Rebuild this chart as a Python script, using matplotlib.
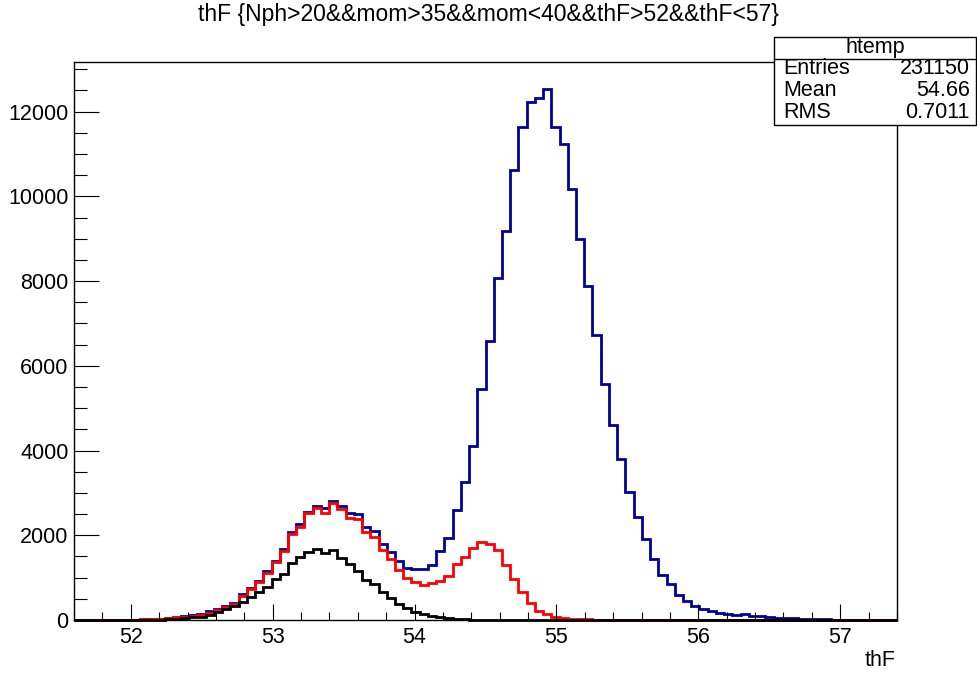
import numpy as np
import matplotlib
matplotlib.use("Agg")
import matplotlib.pyplot as plt
from matplotlib.patches import Rectangle
from matplotlib.ticker import MultipleLocator

plt.rcParams['font.family'] = ['Liberation Sans', 'DejaVu Sans']

# binning of htemp: 100 bins from 51.6 to 57.4
x_lo, x_hi, n_bins = 51.6, 57.4, 100

# bin contents (bins 0..99)
blue = [0, 0, 0, 0, 0, 0, 3, 8, 15, 25,
        35, 55, 70, 90, 115, 135, 210, 267, 330, 409,
        613, 747, 920, 1156, 1400, 1667, 2067, 2256, 2555, 2688,
        2633, 2806, 2696, 2531, 2492, 2201, 2099, 1800, 1600, 1385,
        1235, 1203, 1203, 1297, 1627, 1926, 2587, 3247, 4110, 5447,
        6580, 8072, 9180, 10611, 11648, 12238, 12316, 12545, 11632, 11240,
        10170, 8984, 7876, 6720, 5581, 4598, 3796, 3011, 2436, 1903,
        1446, 1061, 842, 590, 455, 330, 267, 220, 172, 134,
        118, 130, 100, 85, 75, 55, 45, 40, 35, 30,
        22, 15, 10, 3, 0, 0, 0, 0, 0, 0]

red = [0, 0, 0, 0, 0, 0, 3, 8, 15, 22,
       32, 48, 62, 80, 100, 115, 160, 236, 300, 377,
       574, 723, 888, 1116, 1360, 1635, 2020, 2201, 2531, 2633,
       2531, 2751, 2610, 2397, 2374, 2067, 1950, 1660, 1431, 1187,
       990, 889, 825, 865, 927, 1038, 1313, 1493, 1690, 1846,
       1792, 1651, 1297, 959, 667, 393, 212, 134, 79, 50,
       32, 20, 12, 6, 3, 0, 0, 0, 0, 0,
       0, 0, 0, 0, 0, 0, 0, 0, 0, 0,
       0, 0, 0, 0, 0, 0, 0, 0, 0, 0,
       0, 0, 0, 0, 0, 0, 0, 0, 0, 0]

black = [0, 0, 0, 0, 0, 0, 0, 0, 0, 0,
         8, 15, 28, 45, 65, 80, 118, 181, 252, 330,
         432, 550, 668, 786, 967, 1085, 1336, 1493, 1596, 1675,
         1572, 1651, 1454, 1320, 1163, 943, 841, 665, 530, 372,
         292, 196, 141, 102, 63, 40, 22, 12, 6, 3,
         0, 0, 0, 0, 0, 0, 0, 0, 0, 0,
         0, 0, 0, 0, 0, 0, 0, 0, 0, 0,
         0, 0, 0, 0, 0, 0, 0, 0, 0, 0,
         0, 0, 0, 0, 0, 0, 0, 0, 0, 0,
         0, 0, 0, 0, 0, 0, 0, 0, 0, 0]

title = "thF {Nph>20&&mom>35&&mom<40&&thF>52&&thF<57}"
stats = [("Entries", "231150"), ("Mean", "54.66"), ("RMS", "0.7011")]

edges = np.linspace(x_lo, x_hi, n_bins + 1)

fig = plt.figure(figsize=(9.77, 6.73), dpi=100)
ax = fig.add_axes([74/977, 1 - 620/673, (897-74)/977, (620-62)/673])

lw = 2.0
ax.stairs(blue, edges, baseline=None, color='#000099', lw=lw, clip_on=False)
ax.stairs(red, edges, baseline=None, color='#ff0000', lw=lw, clip_on=False)
ax.stairs(black, edges, baseline=None, color='black', lw=lw, clip_on=False)

ax.set_xlim(x_lo, x_hi)
ax.set_ylim(0, 1.05 * max(blue))

ax.xaxis.set_major_locator(MultipleLocator(1))
ax.xaxis.set_minor_locator(MultipleLocator(0.2))
ax.yaxis.set_major_locator(MultipleLocator(2000))
ax.yaxis.set_minor_locator(MultipleLocator(500))
ax.tick_params(axis='x', which='major', direction='in', length=11.5, width=0.8, labelsize=15.5, pad=5)
ax.tick_params(axis='x', which='minor', direction='in', length=5.8, width=0.8)
ax.tick_params(axis='y', which='major', direction='in', length=18, width=0.8, labelsize=15.5, pad=4)
ax.tick_params(axis='y', which='minor', direction='in', length=9, width=0.8)
for s in ax.spines.values():
    s.set_linewidth(1.0)

fig.text(0.5, 1 - 15/673, title, ha='center', va='center', fontsize=16.5)
fig.text(896/977, 1 - 660/673, "thF", ha='right', va='center', fontsize=15.5)

# stats box
bx0, bx1 = 774/977, 976/977
by0, by1 = 1 - 125/673, 1 - 37/673
fig.patches.append(Rectangle((bx0, by0), bx1 - bx0, by1 - by0, transform=fig.transFigure,
                             facecolor='white', edgecolor='black', lw=1.0, zorder=5))
sep = 1 - 59/673
fig.lines.append(plt.Line2D([bx0, bx1], [sep, sep], transform=fig.transFigure,
                            color='black', lw=1.0, zorder=6))
fig.text((bx0 + bx1) / 2, 1 - 48/673, "htemp", ha='center', va='center', fontsize=15.5, zorder=7)
for i, (k, v) in enumerate(stats):
    yy = 1 - (69 + 21.5 * i)/673
    fig.text(783/977, yy, k, ha='left', va='center', fontsize=15.5, zorder=7)
    fig.text(970/977, yy, v, ha='right', va='center', fontsize=15.5, zorder=7)

fig.savefig("out.png", dpi=100)
